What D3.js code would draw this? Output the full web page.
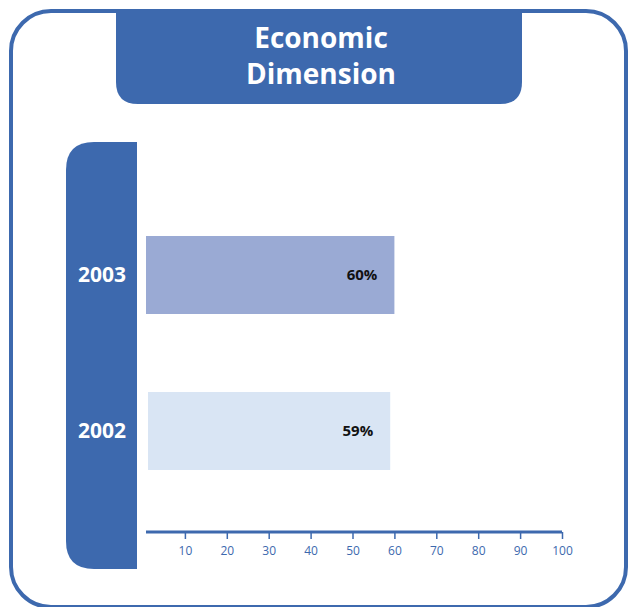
<!DOCTYPE html>
<html>
<head>
<meta charset="utf-8">
<script src="https://cdn.jsdelivr.net/npm/d3@7"></script>
<style>
	body { margin: 0; background: #fff; }
	svg { display: block; }
	.tick text { font-family: "Open Sans", sans-serif; }
</style>
</head>
<body>
<svg id="chart" width="630" height="607"></svg>
<script>
var years = ["2003", "2002"];
var values = [60, 59];
var labels = ["60%", "59%"];
var barColors = ["#9aaad4", "#d9e5f4"];
var tickValues = [10, 20, 30, 40, 50, 60, 70, 80, 90, 100];
var titleLines = ["Economic", "Dimension"];

var blue = "#3d69ae";
var svg = d3.select("#chart");

// outer frame, bottom edge sits right at the window bottom
svg.append("rect")
	.attr("x", 11).attr("y", 11)
	.attr("width", 615).attr("height", 596)
	.attr("rx", 40).attr("ry", 40)
	.attr("fill", "none")
	.attr("stroke", blue)
	.attr("stroke-width", 4);

// title tab, only bottom corners rounded
function tabPath(x, y, w, h, r) {
	return "M" + x + "," + y + "H" + (x + w) + "V" + (y + h - r) +
		"Q" + (x + w) + "," + (y + h) + " " + (x + w - r) + "," + (y + h) +
		"H" + (x + r) + "Q" + x + "," + (y + h) + " " + x + "," + (y + h - r) + "Z";
}
svg.append("path")
	.attr("d", tabPath(116, 9, 406, 95, 22))
	.attr("fill", blue);

svg.selectAll("text.title")
	.data(titleLines)
	.enter().append("text")
	.attr("class", "title")
	.attr("x", 321)
	.attr("y", function(d, i) { return 48 + i * 36; })
	.attr("text-anchor", "middle")
	.attr("fill", "#fff")
	.style("font-family", "'Open Sans', sans-serif")
	.style("font-weight", "700")
	.style("font-size", "28px")
	.text(function(d) { return d; });

// left year column, left corners rounded
function sidePath(x, y, w, h, r) {
	return "M" + (x + r) + "," + y + "H" + (x + w) + "V" + (y + h) + "H" + (x + r) +
		"Q" + x + "," + (y + h) + " " + x + "," + (y + h - r) + "V" + (y + r) +
		"Q" + x + "," + y + " " + (x + r) + "," + y + "Z";
}
svg.append("path")
	.attr("d", sidePath(66, 142, 71, 427, 28))
	.attr("fill", blue);

var x = d3.scaleLinear().domain([0, 100]).range([143, 562]);
var y = d3.scaleBand().domain(years).range([197, 509]).paddingInner(0.5).paddingOuter(0.25);

svg.selectAll("rect.bar")
	.data(years)
	.enter().append("rect")
	.attr("class", "bar")
	.attr("x", function(d, i) { return x(0) + 3 + i * 2; })
	.attr("y", function(d) { return y(d); })
	.attr("width", function(d, i) { return x(values[i]) - x(0) - 3 - i * 2; })
	.attr("height", y.bandwidth())
	.attr("fill", function(d, i) { return barColors[i]; });

svg.selectAll("text.val")
	.data(years)
	.enter().append("text")
	.attr("class", "val")
	.attr("x", function(d, i) { return x(values[i]) - 17; })
	.attr("y", function(d) { return y(d) + y.bandwidth() / 2 + 5; })
	.attr("text-anchor", "end")
	.attr("fill", "#111")
	.style("font-family", "'Open Sans', sans-serif")
	.style("font-weight", "700")
	.style("font-size", "15px")
	.text(function(d, i) { return labels[i]; });

svg.selectAll("text.year")
	.data(years)
	.enter().append("text")
	.attr("class", "year")
	.attr("x", 102)
	.attr("y", function(d) { return y(d) + y.bandwidth() / 2 + 7; })
	.attr("text-anchor", "middle")
	.attr("fill", "#fff")
	.style("font-family", "'Open Sans', sans-serif")
	.style("font-weight", "700")
	.style("font-size", "21px")
	.text(function(d) { return d; });

// axis
var axis = d3.axisBottom(x).tickValues(tickValues).tickSize(7).tickSizeOuter(0).tickPadding(7);
var gAxis = svg.append("g")
	.attr("transform", "translate(0,532)")
	.call(axis);
gAxis.select(".domain")
	.attr("d", "M146,0H562")
	.attr("stroke", blue)
	.attr("stroke-width", 3);
gAxis.selectAll(".tick line").attr("stroke", blue).attr("stroke-width", 1.5);
gAxis.selectAll(".tick text")
	.attr("fill", blue)
	.style("font-size", "12px");
</script>
</body>
</html>
